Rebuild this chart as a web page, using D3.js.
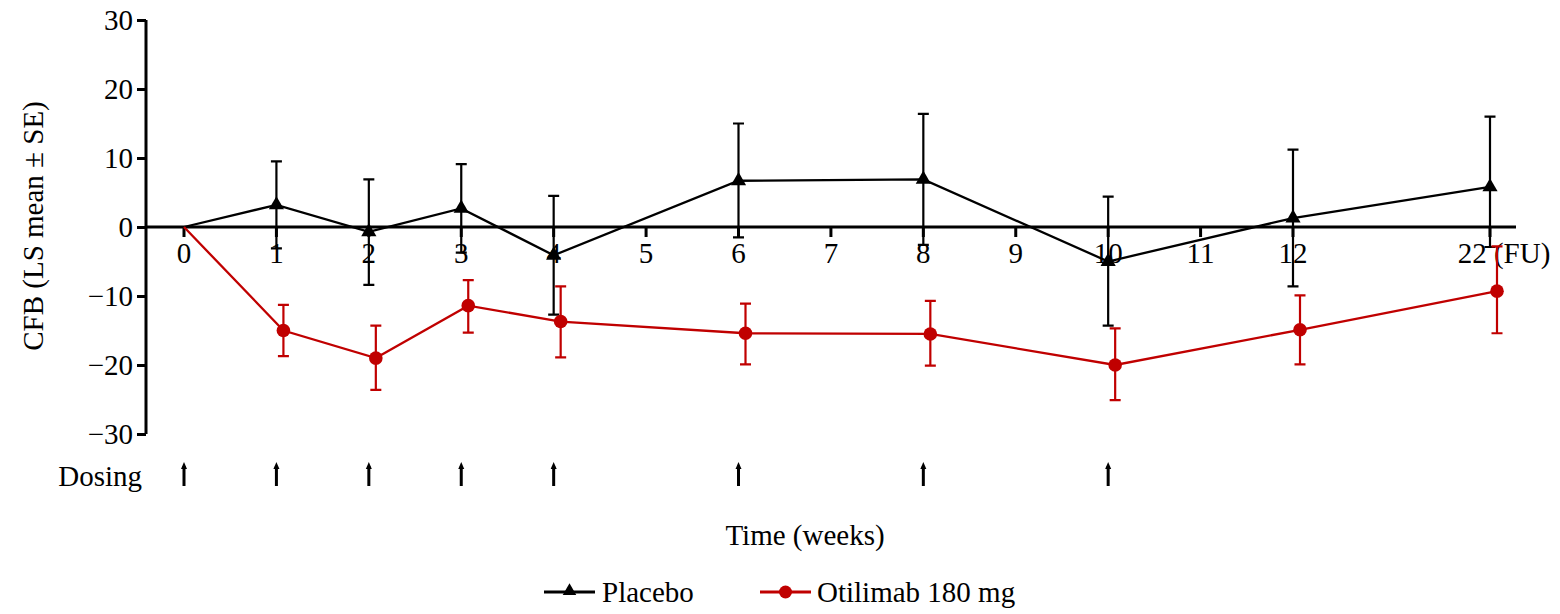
<!DOCTYPE html>
<html><head><meta charset="utf-8">
<script src="https://cdn.jsdelivr.net/npm/d3@7"></script>
<style>body{margin:0;background:#fff}svg{display:block}text{font-family:"Liberation Serif","Times New Roman",serif;fill:#000}</style>
</head><body>
<svg id="chart" width="1560" height="614"></svg>
<script>
// ---- data ----
const weeks = [0, 1, 2, 3, 4, 6, 8, 10, 12, 22];
const tickWeeks = [0, 1, 2, 3, 4, 5, 6, 7, 8, 9, 10, 11, 12, 22];
const tickLabels = ["0","1","2","3","4","5","6","7","8","9","10","11","12","22 (FU)"];
const yTicks = [-30, -20, -10, 0, 10, 20, 30];
const dosingWeeks = [0, 1, 2, 3, 4, 6, 8, 10];

const placeboMean = [0, 3.2, -0.7, 2.7, -4.1, 6.7, 6.9, -5.0, 1.3, 5.8];
const placeboLo   = [null, -3.1, -8.4, -3.7, -12.7, -1.5, -2.6, -14.3, -8.6, -2.9];
const placeboHi   = [null, 9.5, 6.9, 9.1, 4.5, 15.0, 16.4, 4.4, 11.2, 16.0];

const otilimabMean = [0, -15.0, -19.0, -11.4, -13.7, -15.4, -15.5, -20.0, -14.9, -9.3];
const otilimabLo   = [null, -18.7, -23.6, -15.3, -18.9, -19.9, -20.1, -25.1, -19.9, -15.4];
const otilimabHi   = [null, -11.3, -14.3, -7.7, -8.6, -11.1, -10.7, -14.7, -9.9, -2.8];

const seriesNames = ["Placebo", "Otilimab 180 mg"];
const seriesColors = ["#000000", "#c00000"];

// ---- layout ----
const svg = d3.select("#chart");
const x = d3.scaleLinear().domain([0, 12, 22]).range([184, 1293, 1490]);
const y = d3.scaleLinear().domain([-30, 30]).range([434, 20]);
const axisX = 146, axisEnd = 1516;
const fmt = v => (v < 0 ? "\u2212" + Math.abs(v) : String(v));

// x tick labels (drawn first; series overlay them)
const gx = svg.append("g");
gx.selectAll("text").data(tickWeeks).join("text")
  .attr("x", (d, i) => x(d) + (i === tickWeeks.length - 1 ? 14 : 0))
  .attr("y", y(0) + 36)
  .attr("text-anchor", "middle").attr("font-size", 29)
  .text((d, i) => tickLabels[i]);
gx.selectAll("line").data(tickWeeks).join("line")
  .attr("x1", d => x(d)).attr("x2", d => x(d))
  .attr("y1", y(0)).attr("y2", y(0) + 10)
  .attr("stroke", "#000").attr("stroke-width", 3);

// zero line
svg.append("line").attr("x1", axisX).attr("x2", axisEnd)
  .attr("y1", y(0)).attr("y2", y(0)).attr("stroke", "#000").attr("stroke-width", 3);

// y axis
const gy = svg.append("g").attr("transform", `translate(${axisX},0)`)
  .call(d3.axisLeft(y).tickValues(yTicks).tickFormat(fmt).tickSize(9).tickPadding(4));
gy.select(".domain").attr("stroke-width", 3).attr("d", `M0,${y(30)}V${y(-30)}`);
gy.selectAll(".tick line").attr("stroke-width", 3);
gy.selectAll(".tick text").attr("font-size", 29).attr("font-family", "Liberation Serif").attr("dy", "0.33em");

svg.append("text").attr("transform", `translate(43,${(y(30)+y(-30))/2 - 1}) rotate(-90)`)
  .attr("text-anchor", "middle").attr("font-size", 29).text("CFB (LS mean \u00b1 SE)");

// series
const series = [
  {mean: placeboMean, lo: placeboLo, hi: placeboHi, color: seriesColors[0], marker: "tri", dodge: 0},
  {mean: otilimabMean, lo: otilimabLo, hi: otilimabHi, color: seriesColors[1], marker: "circ", dodge: 7}
];
const px = (s, i) => x(weeks[i]) + (i > 0 ? s.dodge : 0);

series.forEach(s => {
  const g = svg.append("g");
  const idx = d3.range(weeks.length);
  g.append("path").datum(idx)
    .attr("d", d3.line().x(i => px(s, i)).y(i => y(s.mean[i])))
    .attr("fill", "none").attr("stroke", s.color).attr("stroke-width", 2.3);
  const eb = idx.filter(i => s.lo[i] !== null);
  g.selectAll(".eb").data(eb).join("path").attr("class", "eb")
    .attr("d", i => {
      const cx = px(s, i), t = y(s.hi[i]), b = y(s.lo[i]);
      return `M${cx},${t}V${b}M${cx-5.5},${t}H${cx+5.5}M${cx-5.5},${b}H${cx+5.5}`;
    })
    .attr("fill", "none").attr("stroke", s.color).attr("stroke-width", 2.2);
  if (s.marker === "tri") {
    g.selectAll(".m").data(eb).join("path").attr("class", "m")
      .attr("transform", i => `translate(${px(s, i)},${y(s.mean[i])})`)
      .attr("d", d3.symbol(d3.symbolTriangle, 100)).attr("fill", s.color);
  } else {
    g.selectAll(".m").data(eb).join("circle").attr("class", "m")
      .attr("cx", i => px(s, i)).attr("cy", i => y(s.mean[i])).attr("r", 6.8).attr("fill", s.color);
  }
});

// dosing row
svg.append("text").attr("x", 142).attr("y", 486).attr("text-anchor", "end").attr("font-size", 29).text("Dosing");
const ga = svg.append("g");
ga.selectAll("line").data(dosingWeeks).join("line")
  .attr("x1", d => x(d)).attr("x2", d => x(d)).attr("y1", 466).attr("y2", 486)
  .attr("stroke", "#000").attr("stroke-width", 3);
ga.selectAll("path").data(dosingWeeks).join("path")
  .attr("d", d => `M${x(d)},462L${x(d)-3},469L${x(d)+3},469Z`).attr("fill", "#000");

// x axis title
svg.append("text").attr("x", 805).attr("y", 545).attr("text-anchor", "middle").attr("font-size", 29).text("Time (weeks)");

// legend
const leg = [{x0: 544, tx: 602}, {x0: 760, tx: 817}];
leg.forEach((l, k) => {
  const g = svg.append("g");
  g.append("line").attr("x1", l.x0).attr("x2", l.x0 + 51).attr("y1", 592).attr("y2", 592)
    .attr("stroke", seriesColors[k]).attr("stroke-width", 3);
  if (k === 0) {
    g.append("path").attr("transform", `translate(${l.x0 + 25.5},591)`)
      .attr("d", d3.symbol(d3.symbolTriangle, 80)).attr("fill", seriesColors[k]);
  } else {
    g.append("circle").attr("cx", l.x0 + 25.5).attr("cy", 592).attr("r", 6.5).attr("fill", seriesColors[k]);
  }
  g.append("text").attr("x", l.tx).attr("y", 602).attr("font-size", 29).text(seriesNames[k]);
});
</script>
</body></html>
